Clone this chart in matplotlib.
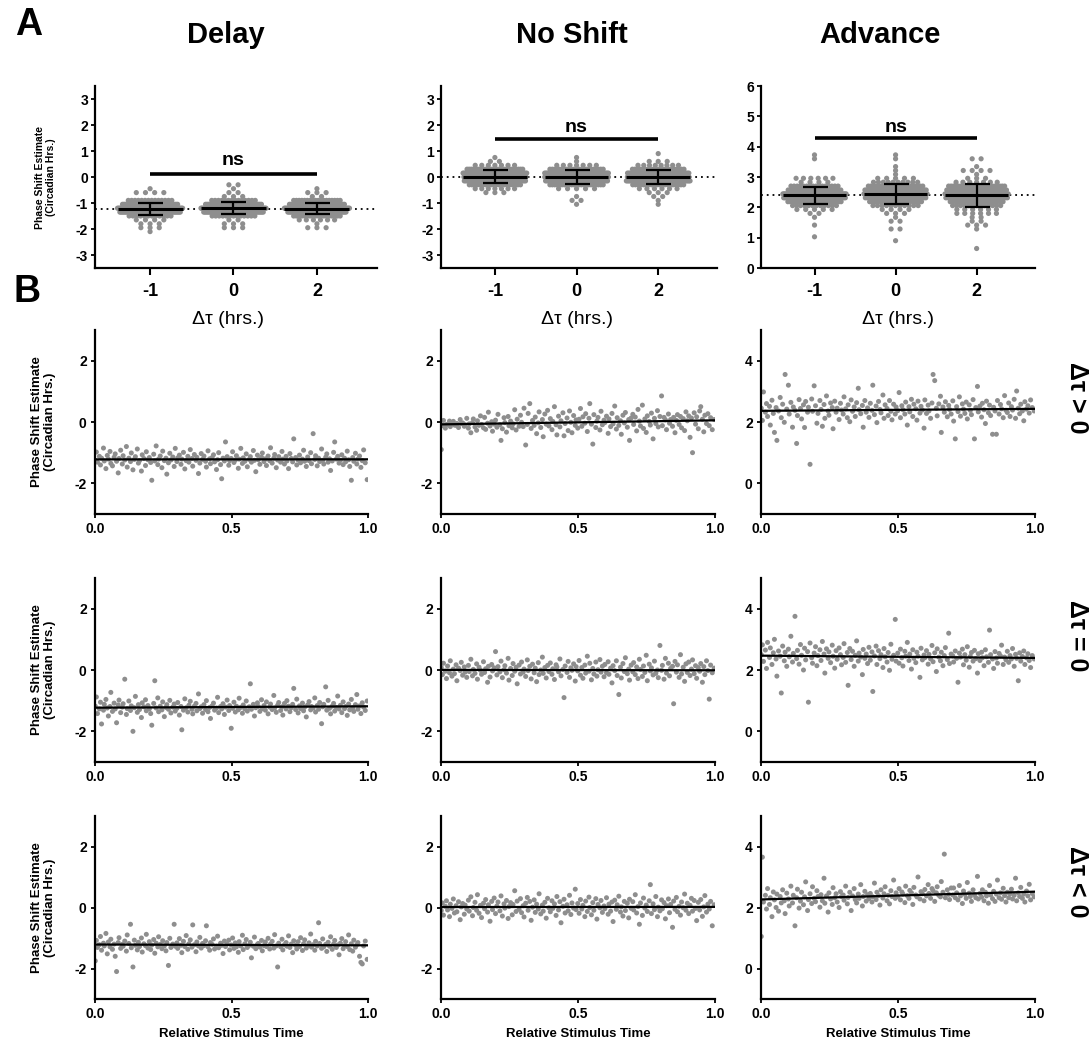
import numpy as np
import matplotlib.pyplot as plt

plt.rcParams['font.family'] = ['Liberation Sans', 'DejaVu Sans']
plt.rcParams['font.weight'] = 'bold'
plt.rcParams['axes.labelweight'] = 'bold'
plt.rcParams['axes.unicode_minus'] = False

W, H = 1091, 1047

# relative stimulus time (per-mille of the cycle)
stim_time = np.array([
    1, 5, 9, 16, 20, 24, 31, 34, 40, 45, 49, 55, 58, 64, 70, 74, 79, 85, 88, 94,
    100, 103, 109, 115, 118, 124, 130, 133, 139, 144, 148, 155, 159, 163, 170, 173, 179, 185, 188, 194,
    199, 204, 208, 215, 219, 224, 230, 233, 239, 245, 248, 254, 260, 263, 269, 274, 278, 285, 290, 294,
    300, 303, 309, 315, 318, 324, 329, 334, 340, 344, 349, 355, 358, 364, 370, 373, 379, 384, 389, 394,
    399, 405, 408, 414, 420, 423, 429, 434, 438, 445, 449, 453, 460, 464, 469, 474, 478, 484, 490, 493,
    499, 504, 509, 514, 518, 525, 528, 534, 540, 543, 549, 554, 558, 565, 569, 573, 580, 584, 589, 595,
    598, 604, 610, 613, 619, 624, 628, 634, 640, 643, 649, 655, 658, 664, 669, 673, 680, 685, 688, 694,
    700, 703, 709, 714, 719, 724, 728, 735, 739, 744, 749, 753, 760, 764, 768, 774, 779, 784, 790, 793,
    799, 805, 808, 814, 819, 823, 830, 834, 838, 845, 849, 854, 859, 863, 869, 874, 878, 884, 889, 894,
    899, 904, 909, 914, 918, 924, 929, 933, 939, 944, 948, 954, 959, 963, 969, 974, 979, 984, 990, 997,
]) / 1000

# phase shift estimates, centi-circadian hours
delay_pos = np.array([
    -125, -98, -131, -112, -140, -118, -85, -127, -152, -109, -121, -96, -135, -143, -115, -104, -128, -166, -119, -92,
    -137, -110, -124, -80, -147, -118, -129, -101, -156, -122, -113, -88, -134, -126, -160, -107, -119, -142, -97, -123,
    -116, -132, -190, -105, -127, -78, -139, -121, -111, -149, -95, -126, -118, -170, -133, -102, -124, -114, -145, -86,
    -129, -117, -108, -138, -121, -99, -153, -126, -112, -131, -90, -119, -144, -106, -125, -115, -168, -134, -103, -122,
    -111, -128, -147, -94, -120, -136, -116, -107, -130, -155, -123, -100, -139, -185, -118, -127, -65, -113, -141, -126,
    -119, -97, -132, -124, -110, -151, -121, -86, -135, -117, -128, -104, -146, -122, -113, -131, -93, -125, -162, -108,
    -123, -138, -115, -101, -129, -120, -142, -111, -126, -84, -134, -118, -106, -149, -124, -113, -131, -96, -121, -137,
    -112, -127, -152, -103, -119, -130, -55, -116, -140, -124, -108, -133, -121, -92, -128, -145, -114, -126, -100, -136,
    -38, -122, -110, -143, -118, -129, -88, -125, -137, -115, -104, -131, -120, -158, -127, -99, -65, -121, -112, -134,
    -125, -107, -139, -118, -130, -95, -123, -145, -190, -116, -128, -102, -137, -121, -111, -148, -126, -91, -133, -188,
]) / 100

delay_zero = np.array([
    -118, -88, -142, -127, -105, -176, -131, -112, -96, -124, -150, -119, -73, -135, -108, -127, -172, -114, -98, -139,
    -121, -110, -30, -145, -126, -101, -132, -117, -200, -123, -86, -138, -113, -129, -155, -107, -120, -97, -133, -116,
    -127, -142, -180, -109, -35, -124, -91, -136, -118, -130, -104, -152, -122, -113, -128, -99, -140, -121, -111, -134,
    -125, -106, -147, -119, -195, -131, -94, -123, -137, -115, -102, -128, -143, -118, -109, -133, -78, -126, -120, -141,
    -113, -129, -100, -136, -122, -158, -117, -108, -131, -124, -89, -139, -119, -127, -110, -145, -121, -98, -132, -116,
    -190, -125, -105, -137, -118, -130, -92, -122, -141, -114, -127, -101, -134, -120, -45, -128, -112, -150, -123, -107,
    -119, -135, -97, -126, -116, -131, -104, -143, -121, -111, -129, -83, -124, -138, -115, -106, -132, -120, -147, -109,
    -127, -100, -118, -136, -123, -112, -60, -129, -95, -140, -117, -126, -108, -133, -121, -153, -114, -103, -130, -119,
    -124, -91, -137, -116, -128, -106, -175, -120, -112, -55, -131, -99, -125, -143, -118, -109, -134, -122, -85, -127,
    -115, -139, -104, -126, -119, -148, -111, -130, -96, -123, -135, -113, -80, -128, -117, -142, -107, -121, -132, -101,
]) / 100

delay_neg = np.array([
    -175, -108, -131, -122, -95, -140, -117, -126, -85, -152, -113, -129, -104, -137, -120, -160, -210, -115, -99, -134,
    -121, -127, -110, -143, -90, -118, -55, -132, -195, -107, -124, -139, -114, -128, -100, -146, -119, -125, -88, -133,
    -112, -138, -123, -105, -150, -117, -129, -96, -121, -135, -109, -126, -142, -115, -190, -101, -131, -120, -55, -127,
    -116, -134, -102, -124, -148, -111, -128, -92, -137, -119, -106, -130, -57, -122, -145, -113, -126, -98, -133, -118,
    -125, -109, -60, -129, -140, -115, -121, -103, -136, -127, -94, -132, -117, -124, -151, -110, -128, -120, -107, -139,
    -123, -100, -134, -116, -129, -147, -112, -126, -91, -138, -119, -105, -131, -124, -114, -165, -127, -97, -135, -121,
    -118, -130, -108, -142, -125, -113, -128, -101, -136, -120, -111, -133, -89, -126, -195, -117, -129, -104, -139, -122,
    -115, -127, -93, -131, -120, -148, -109, -124, -136, -112, -128, -99, -141, -119, -106, -133, -125, -116, -87, -130,
    -122, -140, -111, -126, -50, -118, -134, -103, -129, -121, -144, -114, -127, -96, -137, -120, -108, -131, -123, -155,
    -117, -102, -135, -125, -112, -128, -90, -138, -119, -143, -107, -130, -122, -115, -160, -180, -185, -126, -110, -170,
]) / 100

noshift_pos = np.array([
    -90, -12, 5, -20, -8, -8, 3, -15, -2, 2, -10, -11, -5, -18, 8, -5, -3, -14, -9, 12,
    -20, -6, -35, -2, 10, -16, -27, 4, -11, 20, -8, -19, 15, -24, -4, 32, -13, 1, -30, -7,
    6, -17, 25, -9, -60, -22, 14, -2, -33, 18, -12, 3, -19, -6, 40, -26, 9, -14, 22, -1,
    -15, 45, -75, -8, 28, 60, -21, 5, -11, 16, -38, -3, 33, -18, 8, -48, 26, -7, 38, -13,
    11, -25, 2, 50, -9, -42, 19, -16, 4, 30, -45, -5, 13, -28, 36, -1, -35, 21, -11, 7,
    -20, 9, 44, -14, 17, -4, 27, -31, 12, 60, -7, -72, 24, -18, 3, 15, -26, 35, -9, 6,
    -2, 19, -37, 10, -15, 28, -6, 52, -23, 14, -11, 4, -40, 22, -3, 31, -17, 8, -60, 13,
    25, -8, 16, -29, 41, 3, -13, 55, -21, 10, -34, 20, 2, -10, 29, -55, 12, -5, 37, -16,
    18, 85, -12, 15, 7, -25, 26, -4, 8, -14, 15, -35, 5, 24, -8, 18, -19, 11, -28, 33,
    4, 20, -50, 13, -100, 30, -7, 17, -22, 36, 50, 9, -32, 22, -5, 27, -12, 14, -25, 8,
]) / 100

noshift_zero = np.array([
    8, -15, 22, -4, -28, 13, -9, 30, -20, 3, -12, 17, -35, 6, -2, 25, -17, 10, -7, -24,
    15, -5, 35, -19, 2, -11, 20, -30, 9, -1, -14, 27, -8, 4, -40, 12, -23, 18, -3, 7,
    60, -16, 11, -6, 29, -25, 1, 14, -10, 38, -33, 5, -18, 21, -4, 9, -45, 16, -13, 26,
    -7, 3, -21, 33, -2, 12, -29, 19, -9, 6, -38, 24, -15, 0, 42, -11, 8, -26, 15, -5,
    23, -14, 4, -31, 17, 10, -6, 36, -19, 2, -90, 13, -8, 28, -24, 7, -1, 20, -36, 11,
    -3, 31, -17, 8, -27, 16, -10, 45, -4, 22, -32, 5, -13, 26, -20, 1, 34, -7, 12, -22,
    18, -9, 27, -14, 6, -42, 14, -2, 30, -18, -80, 9, -26, 21, -5, 40, -12, 3, -33, 16,
    -6, 24, -15, 10, -28, 35, 2, -21, 13, -8, 48, -35, 19, -3, 7, -16, 29, -11, 0, -25,
    80, -1, 15, -30, 38, -10, 22, -19, 5, 12, -110, 28, -7, 17, -24, 50, -13, 9, -37, 20,
    -8, 26, -18, 3, 33, -12, 14, -27, 8, -4, 21, -40, 11, -15, 30, -2, -95, 16, -9, 6,
]) / 100

noshift_neg = np.array([
    -10, 15, -25, 4, 22, -8, -30, 11, -3, 28, -18, 6, -14, 19, -40, 2, 13, -22, 8, -5,
    24, -12, 35, -27, 0, 17, -9, 42, -19, 7, -33, 14, -4, 26, -15, 9, -45, 20, -7, 31,
    -20, 5, 18, -11, 38, -28, 12, -2, 23, -36, 3, 16, -24, 10, 55, -13, 21, -6, 29, -17,
    6, -31, 14, 33, -9, 20, -42, 1, 25, -16, 11, -5, 45, -21, 8, -12, 17, -35, 30, -1,
    -14, 22, -3, 12, -26, 36, -8, 19, -50, 4, 27, -18, 9, -11, 40, -23, 15, -2, 60, -7,
    13, -19, 26, -5, 7, -30, 21, -13, 34, 0, -24, 16, -9, 29, -38, 10, -1, 23, -16, 5,
    -4, 32, -22, 11, -12, 18, -46, 24, -6, 9, 37, -15, 2, -28, 20, -10, 14, -34, 27, -3,
    19, -8, 42, -18, 3, -55, 15, -26, 31, -2, 8, -13, 22, 75, -20, 12, -7, 36, -30, 1,
    -11, 25, -4, 16, -37, 6, 28, -17, 10, -65, 21, -6, 33, -14, 4, -25, 18, -1, 44, -9,
    14, -20, 7, 30, -12, 23, -3, -43, 17, -8, 26, -29, 2, 39, -15, 11, -5, 20, -60, 9,
]) / 100

advance_pos = np.array([
    245, 205, 298, 232, 260, 218, 251, 190, 271, 228, 166, 247, 140, 236, 280, 214, 258, 199, 355, 242,
    320, 226, 264, 183, 249, 238, 130, 221, 273, 244, 210, 256, 182, 267, 232, 248, 62, 275, 235, 318,
    253, 196, 228, 270, 241, 186, 257, 212, 285, 236, 222, 262, 247, 178, 268, 232, 245, 208, 261, 239,
    226, 282, 243, 214, 256, 201, 272, 235, 249, 218, 263, 310, 240, 227, 254, 183, 270, 232, 246, 215,
    261, 238, 320, 224, 252, 198, 267, 241, 230, 288, 212, 256, 244, 221, 270, 235, 207, 258, 226, 249,
    237, 296, 214, 253, 240, 226, 265, 190, 250, 233, 274, 218, 258, 243, 206, 268, 229, 251, 239, 180,
    272, 228, 255, 236, 212, 262, 355, 335, 245, 220, 259, 284, 166, 249, 232, 266, 217, 254, 241, 226,
    269, 203, 145, 250, 234, 282, 219, 259, 242, 228, 265, 210, 256, 238, 224, 273, 145, 247, 316, 233,
    252, 216, 261, 240, 195, 268, 230, 255, 221, 160, 248, 236, 160, 270, 226, 257, 243, 214, 286, 238,
    231, 262, 218, 250, 239, 274, 212, 301, 245, 227, 258, 236, 204, 266, 242, 253, 229, 272, 247, 236,
]) / 100

advance_zero = np.array([
    250, 282, 228, 265, 205, 290, 241, 272, 218, 256, 300, 236, 180, 262, 245, 125, 278, 230, 258, 212,
    268, 243, 310, 226, 254, 375, 237, 264, 219, 283, 248, 200, 271, 233, 260, 95, 288, 240, 222, 255,
    276, 214, 247, 266, 231, 293, 252, 190, 269, 238, 259, 224, 281, 245, 206, 263, 235, 272, 250, 217,
    241, 286, 225, 257, 150, 270, 234, 261, 212, 248, 295, 229, 255, 242, 185, 267, 238, 252, 221, 274,
    232, 259, 130, 246, 278, 218, 263, 237, 250, 208, 270, 243, 226, 257, 199, 284, 235, 248, 365, 229,
    255, 222, 268, 240, 213, 261, 245, 290, 231, 252, 203, 266, 238, 224, 258, 245, 176, 271, 233, 249,
    240, 263, 219, 251, 236, 280, 227, 256, 195, 269, 242, 230, 258, 214, 247, 273, 234, 320, 221, 252,
    246, 226, 262, 238, 160, 255, 242, 268, 217, 250, 232, 276, 209, 244, 257, 229, 264, 237, 190, 253,
    231, 258, 240, 214, 266, 243, 225, 330, 250, 236, 205, 260, 239, 222, 254, 246, 281, 218, 242, 233,
    261, 225, 247, 236, 270, 212, 251, 238, 165, 256, 229, 244, 262, 218, 240, 253, 231, 208, 247, 236,
]) / 100

advance_neg = np.array([
    105, 365, 218, 240, 195, 262, 210, 232, 170, 251, 225, 200, 244, 188, 236, 215, 258, 222, 180, 247,
    228, 205, 270, 215, 240, 140, 232, 260, 198, 221, 250, 209, 235, 284, 190, 226, 245, 213, 268, 230,
    219, 255, 236, 201, 242, 222, 296, 214, 238, 185, 248, 228, 210, 265, 232, 245, 218, 200, 252, 236,
    241, 224, 270, 212, 233, 250, 190, 238, 262, 226, 215, 244, 230, 275, 205, 236, 253, 221, 242, 229,
    246, 218, 235, 280, 226, 250, 239, 208, 258, 231, 245, 268, 222, 240, 212, 255, 236, 290, 230, 248,
    236, 262, 225, 251, 244, 216, 270, 239, 230, 256, 248, 210, 266, 241, 235, 300, 228, 252, 245, 222,
    259, 238, 275, 246, 230, 262, 255, 220, 248, 268, 240, 235, 285, 250, 375, 232, 258, 243, 226, 264,
    241, 264, 232, 248, 225, 272, 238, 213, 254, 243, 230, 282, 247, 236, 220, 258, 242, 232, 302, 228,
    246, 234, 258, 222, 250, 238, 214, 272, 241, 229, 253, 220, 244, 290, 232, 248, 227, 263, 239, 218,
    250, 232, 245, 260, 228, 240, 296, 222, 248, 236, 266, 230, 244, 218, 254, 238, 276, 225, 246, 235,
]) / 100

conditions = ['Delay', 'No Shift', 'Advance']
dtau_ticks = ['-1', '0', '2']
row_labels = ['Δτ > 0', 'Δτ = 0', 'Δτ < 0']
# per condition: groups ordered Δτ = -1, 0, 2
groups = [
    [delay_neg, delay_zero, delay_pos],
    [noshift_neg, noshift_zero, noshift_pos],
    [advance_neg, advance_zero, advance_pos],
]

GREY = '#8e8e8e'

fig = plt.figure(figsize=(W / 100, H / 100), dpi=100)


def px_axes(l, t, r, b):
    return fig.add_axes([l / W, 1 - b / H, (r - l) / W, (b - t) / H])


def style(ax):
    for s in ('top', 'right'):
        ax.spines[s].set_visible(False)
    for s in ('left', 'bottom'):
        ax.spines[s].set_linewidth(1.6)


def swarm(vals, center, bin_h, dot_w=0.11, half_max=0.39):
    # stack values that share a bin side by side, rows narrowing with count
    bins = np.round(vals / bin_h).astype(int)
    ids, counts = np.unique(bins, return_counts=True)
    n_max = counts.max()
    xs = np.zeros_like(vals)
    for b, n in zip(ids, counts):
        idx = np.where(bins == b)[0]
        idx = idx[np.argsort(vals[idx])]
        half = half_max * (n / n_max) ** 0.25
        step = dot_w if n < 2 else min(dot_w, 2 * half / (n - 1))
        xs[idx] = center + (np.arange(n) - (n - 1) / 2) * step
    return xs, bins * bin_h


# --- panel A: swarm plots per condition ---
top_boxes = [(95, 86, 377, 268), (441, 86, 717, 268), (761, 86, 1035, 268)]
top_ylims = [(-3.5, 3.5), (-3.5, 3.5), (0, 6)]
top_yticks = [range(-3, 4), range(-3, 4), range(0, 7)]
ns_bar_y = [0.1, 1.45, 4.3]
ns_text_y = [0.62, 1.92, 4.62]
title_x = [226, 572, 880]
dtau_x = [228, 577, 898]

for c in range(3):
    ax = px_axes(*top_boxes[c])
    style(ax)
    ylo, yhi = top_ylims[c]
    ax.set_ylim(ylo, yhi)
    ax.set_xlim(-0.66, 2.72)
    bin_h = 3.9 * (yhi - ylo) / (top_boxes[c][3] - top_boxes[c][1])
    allv = np.concatenate(groups[c])
    ax.axhline(allv.mean(), color='black', lw=1.3, ls=(0, (1, 2.2)), zorder=1)
    for g, vals in enumerate(groups[c]):
        xs, ys = swarm(vals, g, bin_h)
        ax.scatter(xs, ys, s=14, color=GREY, edgecolors='none', zorder=2)
        m, sd = vals.mean(), vals.std(ddof=1)
        ax.hlines(m, g - 0.39, g + 0.39, color='black', lw=2.2, zorder=4)
        ax.errorbar(g, m, yerr=sd, fmt='none', ecolor='black', elinewidth=1.6,
                    capsize=9, capthick=1.6, zorder=4)
    ax.plot([0, 2], [ns_bar_y[c]] * 2, color='black', lw=2.6, solid_capstyle='butt')
    ax.text(1, ns_text_y[c], 'ns', ha='center', va='center', fontsize=14)
    ax.set_xticks([0, 1, 2])
    ax.set_xticklabels(dtau_ticks)
    ax.set_yticks(list(top_yticks[c]))
    ax.tick_params(axis='x', length=5, width=1.5, labelsize=13, pad=6)
    ax.tick_params(axis='y', length=3, width=1.3, labelsize=10, pad=2)
    if c == 0:
        ax.set_ylabel('Phase Shift Estimate\n(Circadian Hrs.)', fontsize=7.5, linespacing=1.1)
        ax.yaxis.set_label_coords(-0.14, 0.5)
    fig.text(title_x[c] / W, 1 - 35 / H, conditions[c], ha='center', va='center', fontsize=21)
    fig.text(dtau_x[c] / W, 1 - 320 / H, 'Δτ (hrs.)', ha='center', va='center',
             fontsize=14, fontweight='normal')

fig.text(15 / W, 1 - 25 / H, 'A', ha='left', va='center', fontsize=27)
fig.text(13 / W, 1 - 292 / H, 'B', ha='left', va='center', fontsize=27)

# --- panel B: phase shift vs relative stimulus time ---
col_x = [(95, 368), (441, 715), (761, 1035)]
row_y = [(330, 514), (578, 762), (816, 999)]
bot_ylims = [(-3, 3), (-3, 3), (-1, 5)]
bot_yticks = [[-2, 0, 2], [-2, 0, 2], [0, 2, 4]]
row_label_y = [398, 636, 882]

for r in range(3):
    g = 2 - r
    for c in range(3):
        ax = px_axes(col_x[c][0], row_y[r][0], col_x[c][1], row_y[r][1])
        style(ax)
        vals = groups[c][g]
        t = stim_time[:len(vals)]
        ax.scatter(t, vals, s=13, color=GREY, edgecolors='none', zorder=2)
        k, b0 = np.polyfit(t, vals, 1)
        ax.plot([0, 1], [b0, k + b0], color='black', lw=1.6, zorder=3)
        ax.set_xlim(0, 1)
        ax.set_ylim(*bot_ylims[c])
        ax.set_xticks([0, 0.5, 1.0])
        ax.set_xticklabels(['0.0', '0.5', '1.0'])
        ax.set_yticks(bot_yticks[c])
        ax.tick_params(axis='both', length=3, width=1.3, labelsize=10, pad=3)
        if c == 0:
            ax.set_ylabel('Phase Shift Estimate\n(Circadian Hrs.)', fontsize=9.5, linespacing=1.1)
            ax.yaxis.set_label_coords(-0.143, 0.5)
        if r == 2:
            ax.set_xlabel('Relative Stimulus Time', fontsize=9.5, labelpad=5)
    fig.text(1077 / W, 1 - row_label_y[r] / H, row_labels[r], rotation=-90,
             ha='center', va='center', fontsize=18)

fig.savefig('out.png', dpi=100)
